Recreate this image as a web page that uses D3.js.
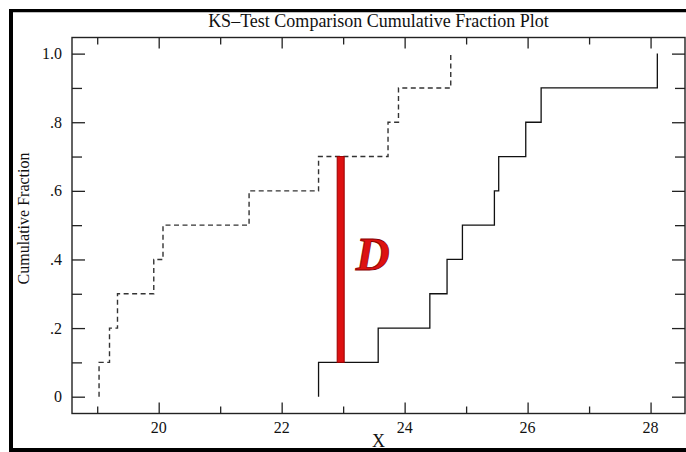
<!DOCTYPE html>
<html>
<head>
<meta charset="utf-8">
<script src="https://cdn.jsdelivr.net/npm/d3@7"></script>
<style>
  html, body { margin: 0; padding: 0; background: #fff; }
  svg { display: block; font-family: "Liberation Serif", "Times New Roman", serif; }
</style>
</head>
<body>
<div id="chart-container"></div>
<script>
// step positions
const sampleA = [19.03, 19.2, 19.33, 19.92, 20.07, 21.47, 22.6, 23.73, 23.9, 24.75];   // dashed
const sampleB = [22.6, 23.57, 24.41, 24.69, 24.94, 25.46, 25.53, 25.97, 26.22, 28.11]; // solid
const fractions = [0.1, 0.2, 0.3, 0.4, 0.5, 0.6, 0.7, 0.8, 0.9, 1.0];
const dStat = { x: 22.96, low: 0.1, high: 0.7 };

const xTicks = [19, 20, 21, 22, 23, 24, 25, 26, 27, 28];
const xLabels = [20, 22, 24, 26, 28];
const yTicks = [0, 0.1, 0.2, 0.3, 0.4, 0.5, 0.6, 0.7, 0.8, 0.9, 1.0];
const yLabels = ["0", ".2", ".4", ".6", ".8", "1.0"];

const W = 686, H = 452;
const plot = { left: 72, right: 685, top: 37.5, bottom: 413.5 };

const svg = d3.select("#chart-container")
    .append("svg")
    .attr("width", W)
    .attr("height", H);

const x = d3.scaleLinear().domain([18.59, 28.56]).range([plot.left, plot.right]);
const y = d3.scaleLinear().domain([-0.049, 1.047]).range([plot.bottom, plot.top]);

// outer frame (right side runs off the page)
svg.append("path")
    .attr("d", `M${W + 10},10.3 H11 V450 H${W + 10}`)
    .attr("fill", "none")
    .attr("stroke", "#000")
    .attr("stroke-width", 4);
svg.append("rect")
    .attr("x", 0).attr("y", 8).attr("width", W).attr("height", 1)
    .attr("fill", "#fff");

// title
svg.append("text")
    .attr("x", (plot.left + plot.right) / 2)
    .attr("y", 27)
    .attr("text-anchor", "middle")
    .style("font-size", "18px")
    .attr("fill", "#111")
    .text("KS\u2013Test Comparison Cumulative Fraction Plot");

// axes, ticks pointing inward
const isMajorX = d => d % 2 === 0;
const isMajorY = d => Math.round(d * 10) % 2 === 0;

const bottomAxis = svg.append("g")
    .attr("transform", `translate(0,${plot.bottom})`)
    .call(d3.axisTop(x).tickValues(xTicks).tickFormat("").tickSizeOuter(0));
bottomAxis.selectAll(".tick line").attr("y2", d => isMajorX(d) ? -11 : -7);

const topAxis = svg.append("g")
    .attr("transform", `translate(0,${plot.top})`)
    .call(d3.axisBottom(x).tickValues(xTicks).tickFormat("").tickSizeOuter(0));
topAxis.selectAll(".tick line").attr("y2", d => isMajorX(d) ? 11 : 7);

const leftAxis = svg.append("g")
    .attr("transform", `translate(${plot.left},0)`)
    .call(d3.axisRight(y).tickValues(yTicks).tickFormat("").tickSizeOuter(0));
leftAxis.selectAll(".tick line").attr("x2", d => isMajorY(d) ? 13 : 10);

const rightAxis = svg.append("g")
    .attr("transform", `translate(${plot.right},0)`)
    .call(d3.axisLeft(y).tickValues(yTicks).tickFormat("").tickSizeOuter(0));
rightAxis.selectAll(".tick line").attr("x2", d => isMajorY(d) ? -13 : -10);

svg.selectAll(".domain").remove();
svg.selectAll(".tick line").attr("stroke", "#222").attr("stroke-width", 1.3);

svg.append("rect")
    .attr("x", plot.left).attr("y", plot.top)
    .attr("width", plot.right - plot.left)
    .attr("height", plot.bottom - plot.top)
    .attr("fill", "none")
    .attr("stroke", "#222")
    .attr("stroke-width", 1.4);

// tick labels
svg.append("g").selectAll("text")
    .data(xLabels)
    .enter().append("text")
    .attr("x", d => x(d))
    .attr("y", 433)
    .attr("text-anchor", "middle")
    .style("font-size", "16px")
    .attr("fill", "#111")
    .text(d => d);

svg.append("g").selectAll("text")
    .data(yLabels)
    .enter().append("text")
    .attr("x", plot.left - 10)
    .attr("y", d => y(+d) + 5.5)
    .attr("text-anchor", "end")
    .style("font-size", "16px")
    .attr("fill", "#111")
    .text(d => d);

// axis titles
svg.append("text")
    .attr("x", (plot.left + plot.right) / 2)
    .attr("y", 447)
    .attr("text-anchor", "middle")
    .style("font-size", "18px")
    .attr("fill", "#111")
    .text("X");

svg.append("text")
    .attr("transform", `translate(29,${(plot.top + plot.bottom) / 2 - 7}) rotate(-90)`)
    .attr("text-anchor", "middle")
    .style("font-size", "16px")
    .attr("fill", "#111")
    .text("Cumulative Fraction");

// cumulative step curves
const step = d3.line()
    .x(d => x(d[0]))
    .y(d => y(d[1]))
    .curve(d3.curveStepAfter);

const pts = xs => [[xs[0], 0]].concat(xs.map((v, i) => [v, fractions[i]]));

svg.append("path")
    .attr("d", step(pts(sampleA)))
    .attr("fill", "none")
    .attr("stroke", "#333")
    .attr("stroke-width", 1.4)
    .attr("stroke-dasharray", "5,3.5");

svg.append("path")
    .attr("d", step(pts(sampleB)))
    .attr("fill", "none")
    .attr("stroke", "#111")
    .attr("stroke-width", 1.3);

// D statistic bar
svg.append("rect")
    .attr("x", x(dStat.x) - 3.5)
    .attr("y", y(dStat.high))
    .attr("width", 7)
    .attr("height", y(dStat.low) - y(dStat.high))
    .attr("fill", "#dd1111")
    .attr("stroke", "#990000")
    .attr("stroke-width", 1);

svg.append("text")
    .attr("x", x(dStat.x) + 15)
    .attr("y", y((dStat.low + dStat.high) / 2) + 11)
    .style("font-size", "47px")
    .style("font-weight", "bold")
    .style("font-style", "italic")
    .attr("fill", "#dd1111")
    .attr("stroke", "#8a0000")
    .attr("stroke-width", 0.8)
    .text("D");
</script>
</body>
</html>
